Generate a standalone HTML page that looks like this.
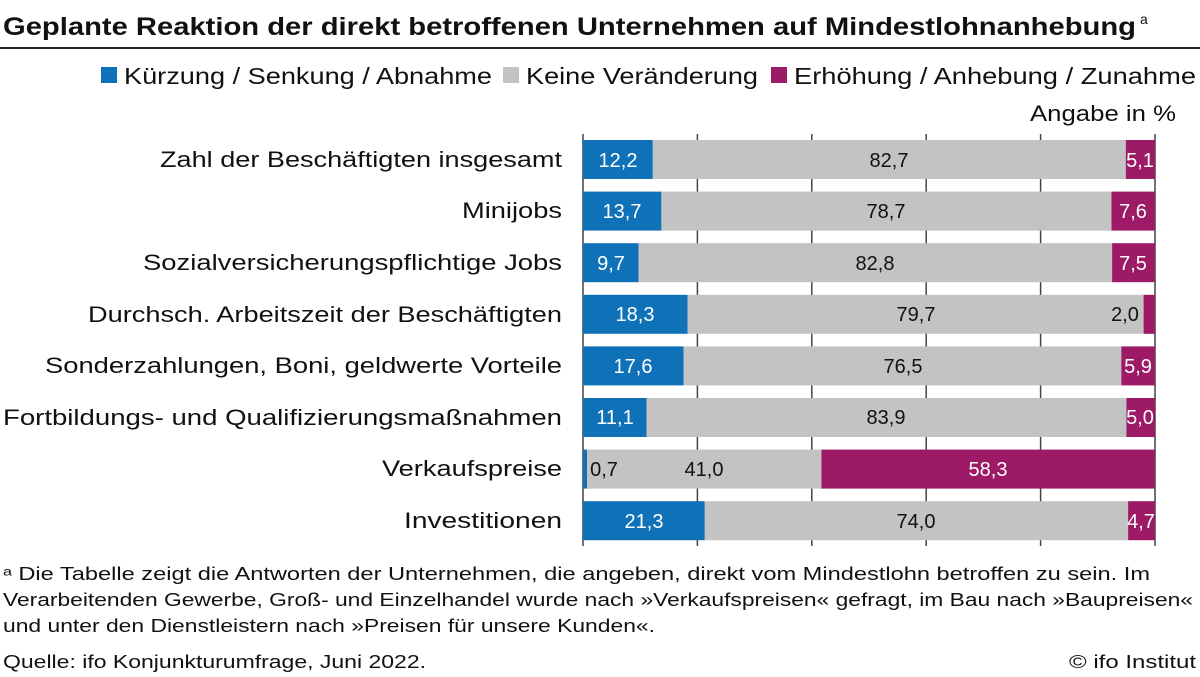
<!DOCTYPE html>
<html><head><meta charset="utf-8"><style>
html,body{margin:0;padding:0;background:#fff}
svg{display:block;font-family:"Liberation Sans",sans-serif}
</style></head><body>
<svg width="1200" height="677" viewBox="0 0 1200 677" xmlns="http://www.w3.org/2000/svg">
<text x="3" y="35" font-size="25" font-weight="bold" fill="#111" textLength="1133" lengthAdjust="spacingAndGlyphs">Geplante Reaktion der direkt betroffenen Unternehmen auf Mindestlohnanhebung</text>
<text x="1140" y="24" font-size="14" fill="#111">a</text>
<rect x="0" y="47" width="1200" height="2" fill="#222"/>
<rect x="101" y="67" width="16" height="16" fill="#0f72b9"/>
<text x="124" y="84" font-size="23" fill="#111" textLength="368" lengthAdjust="spacingAndGlyphs">Kürzung / Senkung / Abnahme</text>
<rect x="503" y="67" width="16" height="16" fill="#c3c3c3"/>
<text x="526" y="84" font-size="23" fill="#111" textLength="232" lengthAdjust="spacingAndGlyphs">Keine Veränderung</text>
<rect x="771" y="67" width="16" height="16" fill="#9c1a66"/>
<text x="794" y="84" font-size="23" fill="#111" textLength="402" lengthAdjust="spacingAndGlyphs">Erhöhung / Anhebung / Zunahme</text>
<text x="1030" y="121" font-size="22" fill="#111" textLength="146" lengthAdjust="spacingAndGlyphs">Angabe in %</text>
<g stroke="#444" stroke-width="1.5">
<line x1="583" y1="134" x2="583" y2="546"/><line x1="697.4" y1="134" x2="697.4" y2="546"/><line x1="811.8" y1="134" x2="811.8" y2="546"/><line x1="926.2" y1="134" x2="926.2" y2="546"/><line x1="1040.6" y1="134" x2="1040.6" y2="546"/><line x1="1155" y1="134" x2="1155" y2="546"/>
</g>
<g font-size="22" fill="#111">
<text x="160" y="167" textLength="402" lengthAdjust="spacingAndGlyphs">Zahl der Beschäftigten insgesamt</text>
<text x="462" y="218" textLength="100" lengthAdjust="spacingAndGlyphs">Minijobs</text>
<text x="143" y="270" textLength="419" lengthAdjust="spacingAndGlyphs">Sozialversicherungspflichtige Jobs</text>
<text x="88" y="322" textLength="474" lengthAdjust="spacingAndGlyphs">Durchsch. Arbeitszeit der Beschäftigten</text>
<text x="45" y="373" textLength="517" lengthAdjust="spacingAndGlyphs">Sonderzahlungen, Boni, geldwerte Vorteile</text>
<text x="3" y="425" textLength="559" lengthAdjust="spacingAndGlyphs">Fortbildungs- und Qualifizierungsmaßnahmen</text>
<text x="382" y="476" textLength="180" lengthAdjust="spacingAndGlyphs">Verkaufspreise</text>
<text x="404" y="528" textLength="158" lengthAdjust="spacingAndGlyphs">Investitionen</text>
</g>
<g font-size="18" fill="#111">
<text x="3" y="580" textLength="1147" lengthAdjust="spacingAndGlyphs">ᵃ Die Tabelle zeigt die Antworten der Unternehmen, die angeben, direkt vom Mindestlohn betroffen zu sein. Im</text>
<text x="3" y="606" textLength="1190" lengthAdjust="spacingAndGlyphs">Verarbeitenden Gewerbe, Groß- und Einzelhandel wurde nach »Verkaufspreisen« gefragt, im Bau nach »Baupreisen«</text>
<text x="3" y="632" textLength="652" lengthAdjust="spacingAndGlyphs">und unter den Dienstleistern nach »Preisen für unsere Kunden«.</text>
<text x="3" y="668" textLength="423" lengthAdjust="spacingAndGlyphs">Quelle: ifo Konjunkturumfrage, Juni 2022.</text>
<text x="1069" y="668" textLength="127" lengthAdjust="spacingAndGlyphs">© ifo Institut</text>
</g>
<g font-size="20">
<rect x="583" y="140" width="69.8" height="39" fill="#0f72b9"/><rect x="652.8" y="140" width="473" height="39" fill="#c3c3c3"/><rect x="1125.8" y="140" width="29.2" height="39" fill="#9c1a66"/>
<text x="618" y="167" fill="#fff" text-anchor="middle">12,2</text><text x="889" y="167" fill="#111" text-anchor="middle">82,7</text><text x="1140" y="167" fill="#fff" text-anchor="middle">5,1</text>
<rect x="583" y="191.6" width="78.4" height="39" fill="#0f72b9"/><rect x="661.4" y="191.6" width="450.1" height="39" fill="#c3c3c3"/><rect x="1111.5" y="191.6" width="43.5" height="39" fill="#9c1a66"/>
<text x="622" y="218" fill="#fff" text-anchor="middle">13,7</text><text x="886" y="218" fill="#111" text-anchor="middle">78,7</text><text x="1133" y="218" fill="#fff" text-anchor="middle">7,6</text>
<rect x="583" y="243.2" width="55.5" height="39" fill="#0f72b9"/><rect x="638.5" y="243.2" width="473.6" height="39" fill="#c3c3c3"/><rect x="1112.1" y="243.2" width="42.9" height="39" fill="#9c1a66"/>
<text x="611" y="270" fill="#fff" text-anchor="middle">9,7</text><text x="875" y="270" fill="#111" text-anchor="middle">82,8</text><text x="1133" y="270" fill="#fff" text-anchor="middle">7,5</text>
<rect x="583" y="294.8" width="104.7" height="39" fill="#0f72b9"/><rect x="687.7" y="294.8" width="455.9" height="39" fill="#c3c3c3"/><rect x="1143.6" y="294.8" width="11.4" height="39" fill="#9c1a66"/>
<text x="635" y="321" fill="#fff" text-anchor="middle">18,3</text><text x="916" y="321" fill="#111" text-anchor="middle">79,7</text><text x="1125" y="321" fill="#111" text-anchor="middle">2,0</text>
<rect x="583" y="346.4" width="100.7" height="39" fill="#0f72b9"/><rect x="683.7" y="346.4" width="437.6" height="39" fill="#c3c3c3"/><rect x="1121.3" y="346.4" width="33.7" height="39" fill="#9c1a66"/>
<text x="633" y="373" fill="#fff" text-anchor="middle">17,6</text><text x="903" y="373" fill="#111" text-anchor="middle">76,5</text><text x="1138" y="373" fill="#fff" text-anchor="middle">5,9</text>
<rect x="583" y="398" width="63.5" height="39" fill="#0f72b9"/><rect x="646.5" y="398" width="479.9" height="39" fill="#c3c3c3"/><rect x="1126.4" y="398" width="28.6" height="39" fill="#9c1a66"/>
<text x="615" y="424" fill="#fff" text-anchor="middle">11,1</text><text x="886" y="424" fill="#111" text-anchor="middle">83,9</text><text x="1140" y="424" fill="#fff" text-anchor="middle">5,0</text>
<rect x="583" y="449.6" width="4" height="39" fill="#0f72b9"/><rect x="587" y="449.6" width="234.5" height="39" fill="#c3c3c3"/><rect x="821.5" y="449.6" width="333.5" height="39" fill="#9c1a66"/>
<text x="604" y="476" fill="#111" text-anchor="middle">0,7</text><text x="704" y="476" fill="#111" text-anchor="middle">41,0</text><text x="988" y="476" fill="#fff" text-anchor="middle">58,3</text>
<rect x="583" y="501.2" width="121.8" height="39" fill="#0f72b9"/><rect x="704.8" y="501.2" width="423.3" height="39" fill="#c3c3c3"/><rect x="1128.1" y="501.2" width="26.9" height="39" fill="#9c1a66"/>
<text x="644" y="528" fill="#fff" text-anchor="middle">21,3</text><text x="916" y="528" fill="#111" text-anchor="middle">74,0</text><text x="1141" y="528" fill="#fff" text-anchor="middle">4,7</text>
</g>
</svg>
</body></html>
